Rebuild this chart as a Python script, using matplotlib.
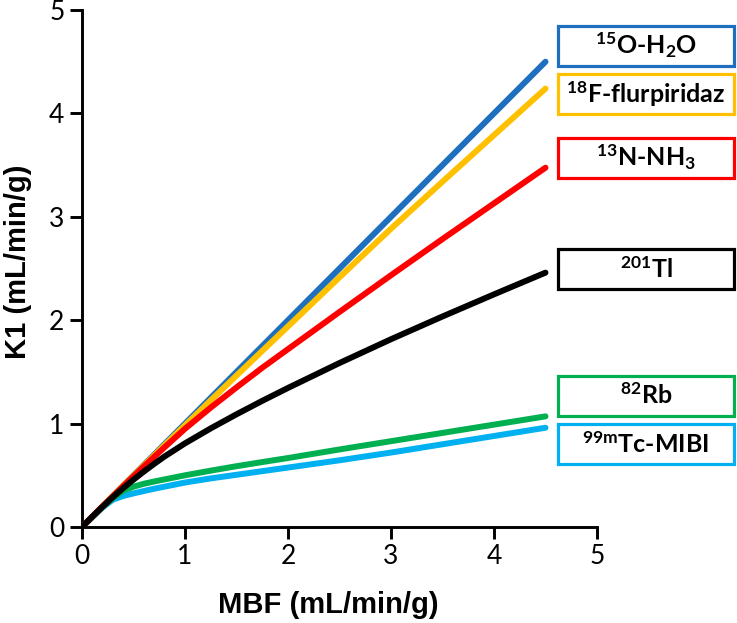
import matplotlib
matplotlib.use("Agg")
import matplotlib.pyplot as plt
from matplotlib.patches import Rectangle

plt.rcParams['mathtext.fontset'] = 'custom'
plt.rcParams['mathtext.rm'] = 'Lato:bold'
plt.rcParams['mathtext.bf'] = 'Lato:bold'
plt.rcParams['mathtext.it'] = 'Lato:bold'
plt.rcParams['mathtext.default'] = 'bf'

# ---- data ----
mbf = [0, 0.1, 0.2, 0.3, 0.4, 0.5, 0.6, 0.7, 0.8, 1.0, 1.25, 1.5, 1.75, 2.0, 2.5, 3.0, 3.5, 4.0, 4.5]
k1_water = [0, 0.1, 0.2, 0.3, 0.4, 0.5, 0.6, 0.7, 0.8, 1.0, 1.25, 1.5, 1.75, 2.0, 2.5, 3.0, 3.5, 4.0, 4.5]
k1_flurpiridaz = [0, 0.1, 0.2, 0.3, 0.398, 0.497, 0.595, 0.692, 0.79, 0.984, 1.225, 1.465, 1.703,
                  1.94, 2.415, 2.885, 3.34, 3.79, 4.24]
k1_ammonia = [0, 0.1, 0.2, 0.298, 0.395, 0.49, 0.585, 0.678, 0.77, 0.95, 1.155, 1.35, 1.54,
              1.72, 2.08, 2.435, 2.785, 3.13, 3.475]
k1_thallium = [0, 0.1, 0.197, 0.289, 0.376, 0.458, 0.536, 0.61, 0.681, 0.809, 0.954, 1.09, 1.22,
               1.345, 1.586, 1.816, 2.036, 2.25, 2.46]
k1_rubidium = [0, 0.097, 0.193, 0.28, 0.35, 0.39, 0.418, 0.44, 0.46, 0.50, 0.545, 0.588, 0.628,
               0.667, 0.75, 0.83, 0.91, 0.99, 1.07]
k1_mibi = [0, 0.095, 0.19, 0.265, 0.30, 0.325, 0.348, 0.37, 0.39, 0.43, 0.47, 0.505, 0.54,
           0.575, 0.645, 0.72, 0.80, 0.88, 0.96]

labels = [r'$^{15}$O-H$_2$O', r'$^{18}$F-flurpiridaz', r'$^{13}$N-NH$_3$',
          r'$^{201}$Tl', r'$^{82}$Rb', r'$^{99m}$Tc-MIBI']
colors = ['#1F6FBF', '#FFC000', '#FF0000', '#000000', '#00B050', '#00B0F0']

W, H = 737, 623
fig = plt.figure(figsize=(W / 100, H / 100), dpi=100)
ax = fig.add_axes([82 / W, 1 - 527 / H, (597 - 82) / W, (527 - 10) / H])

lw = 4.3
kw = dict(lw=lw, solid_capstyle='round', solid_joinstyle='round')
ax.plot(mbf, k1_mibi, color=colors[5], zorder=2, **kw)
ax.plot(mbf, k1_rubidium, color=colors[4], zorder=2, **kw)
ax.plot(mbf, k1_water, color=colors[0], zorder=3, **kw)
ax.plot(mbf, k1_flurpiridaz, color=colors[1], zorder=3, **kw)
ax.plot(mbf, k1_ammonia, color=colors[2], zorder=4, **kw)
ax.plot(mbf, k1_thallium, color=colors[3], zorder=5, **kw)

ax.set_xlim(0, 5)
ax.set_ylim(0, 5)
ax.set_xticks([0, 1, 2, 3, 4, 5])
ax.set_yticks([0, 1, 2, 3, 4, 5])
for s in ['top', 'right']:
    ax.spines[s].set_visible(False)
for s in ['left', 'bottom']:
    ax.spines[s].set_linewidth(2.1)
ax.tick_params(direction='out', length=8.6, width=2.1, labelsize=19, pad=4)
for t in ax.get_xticklabels() + ax.get_yticklabels():
    t.set_fontfamily('Lato')

ax.set_xlabel('MBF (mL/min/g)', fontsize=21, fontweight='bold', family='Liberation Sans')
ax.set_ylabel('K1 (mL/min/g)', fontsize=21, fontweight='bold', family='Liberation Sans')
ax.xaxis.set_label_coords((328 - 82) / 515, (527 - 605) / 517)
ax.yaxis.set_label_coords((18 - 82) / 515, (527 - 262) / 517)
ax.xaxis.label.set_va('center')
ax.yaxis.label.set_va('center')

# label boxes (pixel positions from top)
box_left, box_right = 558, 734
box_centers = [45.5, 94, 157.5, 269, 395.5, 444]
box_h = 40
for lab, col, yc in zip(labels, colors, box_centers):
    rect = Rectangle((box_left / W, 1 - (yc + box_h / 2) / H), (box_right - box_left) / W, box_h / H,
                     transform=fig.transFigure, fill=False, edgecolor=col, linewidth=2.3)
    fig.patches.append(rect)
    fig.text((box_left + box_right) / 2 / W, 1 - yc / H, lab, ha='center', va='center',
             fontsize=18, family='Lato', fontweight='bold')

fig.savefig('out.png', dpi=100)
